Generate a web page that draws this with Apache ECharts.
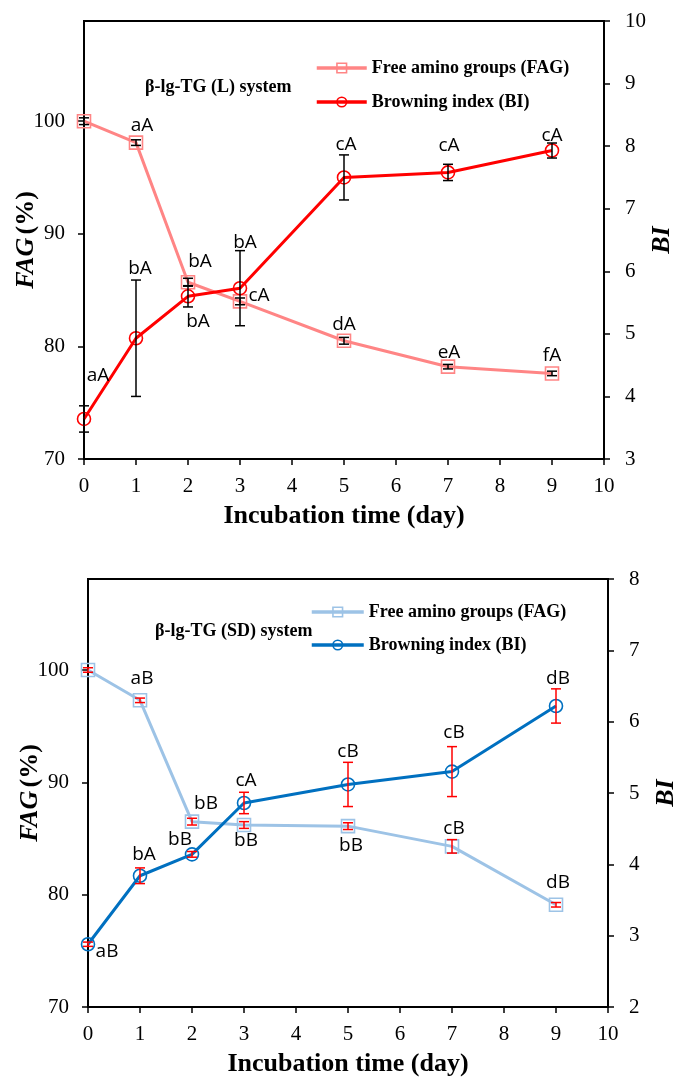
<!DOCTYPE html>
<html>
<head>
<meta charset="utf-8">
<title>FAG and BI during incubation</title>
<script src="https://cdn.jsdelivr.net/npm/echarts@6/dist/echarts.min.js"></script>
<style>
  html, body { margin: 0; padding: 0; background: #fff; }
  #chart { width: 675px; height: 1077px; }
</style>
</head>
<body>
<div id="chart"></div>
<script>
// Incubation days sampled
const days = [0, 1, 2, 3, 5, 7, 9];
const fagTicks = [70, 80, 90, 100];

// β-lg-TG (L) system
const fagL = [100, 98.1, 85.7, 84.0, 80.5, 78.2, 77.6];
const fagLErr = [0.3, 0.25, 0.35, 0.3, 0.3, 0.2, 0.2];
const fagLLetters = ['', 'aA', 'bA', 'cA', 'dA', 'eA', 'fA'];
const biL = [3.64, 4.93, 5.60, 5.73, 7.50, 7.58, 7.93];
const biLErr = [0.21, 0.93, 0.17, 0.6, 0.36, 0.13, 0.12];
const biLLetters = ['aA', 'bA', 'bA', 'bA', 'cA', 'cA', 'cA'];

// β-lg-TG (SD) system
const fagSD = [100, 97.3, 86.5, 86.2, 86.1, 84.3, 79.1];
const fagSDErr = [0.2, 0.2, 0.3, 0.3, 0.3, 0.6, 0.2];
const fagSDLetters = ['', 'aB', 'bB', 'bB', 'bB', 'cB', 'dB'];
const biSD = [2.88, 3.84, 4.14, 4.86, 5.12, 5.30, 6.22];
const biSDErr = [0.03, 0.11, 0.04, 0.15, 0.31, 0.35, 0.24];
const biSDLetters = ['aB', 'bA', 'bB', 'cA', 'cB', 'cB', 'dB'];

// Where each significance letter sits relative to its point (px)
const fagLLetterPos = [[0, 0], [6, -17], [12, -21], [19, -6], [0, -16], [1, -14], [0, -18]];
const biLLetterPos = [[14, -43], [4, -70], [10, 25], [5, -46], [2, -33], [1, -27], [0, -15]];
const fagSDLetterPos = [[0, 0], [2, -22], [14, -18], [2, 16], [3, 19], [2, -18], [2, -22]];
const biSDLetterPos = [[19, 7], [4, -21], [-12, -15], [2, -22], [0, -33], [2, -39], [2, -27]];

const serif = 'Liberation Serif';
const sans = 'Open Sans';

function points(values, letters, pos) {
  return days.map((d, i) => ({
    value: [d, values[i]],
    label: {
      show: letters[i] !== '',
      formatter: letters[i],
      position: 'inside',
      offset: pos[i]
    }
  }));
}

function errRows(values, errs) {
  return days.map((d, i) => [d, values[i] - errs[i], values[i] + errs[i]]);
}

function errorBars(color, capHalf) {
  return function (params, api) {
    const x = api.value(0);
    const top = api.coord([x, api.value(2)]);
    const bot = api.coord([x, api.value(1)]);
    const style = { stroke: color, lineWidth: 1.5, fill: null };
    return {
      type: 'group',
      children: [
        { type: 'line', shape: { x1: top[0], y1: top[1], x2: bot[0], y2: bot[1] }, style },
        { type: 'line', shape: { x1: top[0] - capHalf, y1: top[1], x2: top[0] + capHalf, y2: top[1] }, style },
        { type: 'line', shape: { x1: bot[0] - capHalf, y1: bot[1], x2: bot[0] + capHalf, y2: bot[1] }, style }
      ]
    };
  };
}

const axisLineStyle = { show: true, lineStyle: { color: '#000', width: 2 } };
const tickStyle = { show: true, length: 6, lineStyle: { color: '#000', width: 1.5 } };
const tickLabel = { color: '#000', fontFamily: serif, fontSize: 21 };

function xAxisFor(gridIndex) {
  return {
    gridIndex, type: 'value', min: 0, max: 10, interval: 1,
    axisLine: axisLineStyle, axisTick: tickStyle, splitLine: { show: false },
    axisLabel: Object.assign({ margin: 17 }, tickLabel),
    name: 'Incubation time (day)', nameLocation: 'middle', nameGap: 44, nameMoveOverlap: false,
    nameTextStyle: { color: '#000', fontFamily: serif, fontWeight: 'bold', fontSize: 26 }
  };
}

function fagAxisFor(gridIndex, max) {
  return {
    gridIndex, type: 'value', position: 'left', min: 70, max, interval: 10,
    axisLine: axisLineStyle,
    axisTick: Object.assign({ customValues: fagTicks }, tickStyle),
    splitLine: { show: false },
    axisLabel: Object.assign({ margin: 19, customValues: fagTicks }, tickLabel),
    name: '{i|FAG} {n|(%)}', nameLocation: 'middle', nameRotate: 90, nameGap: 45, nameMoveOverlap: false,
    nameTextStyle: {
      rich: {
        i: { fontFamily: serif, fontWeight: 'bold', fontStyle: 'italic', fontSize: 26, color: '#000' },
        n: { fontFamily: serif, fontWeight: 'bold', fontSize: 26, color: '#000' }
      }
    }
  };
}

function biAxisFor(gridIndex, min, max) {
  return {
    gridIndex, type: 'value', position: 'right', min, max, interval: 1,
    axisLine: axisLineStyle, axisTick: tickStyle, splitLine: { show: false },
    axisLabel: Object.assign({ margin: 21 }, tickLabel),
    name: 'BI', nameLocation: 'middle', nameRotate: 90, nameGap: 45, nameMoveOverlap: false,
    nameTextStyle: { color: '#000', fontFamily: serif, fontWeight: 'bold', fontStyle: 'italic', fontSize: 26 }
  };
}

function lineSeries(name, xi, yi, data, color, symbol) {
  return {
    name, type: 'line', xAxisIndex: xi, yAxisIndex: yi, data,
    symbol, symbolSize: 13, showAllSymbol: true,
    lineStyle: { color, width: 3 },
    itemStyle: { color: 'rgba(255,255,255,0)', borderColor: color, borderWidth: 1.6 },
    label: { color: '#000', fontFamily: sans, fontSize: 19 },
    emphasis: { disabled: true },
    z: 3
  };
}

function errSeries(xi, yi, rows, color) {
  return {
    type: 'custom', xAxisIndex: xi, yAxisIndex: yi, data: rows,
    encode: { x: 0, y: [1, 2] },
    renderItem: errorBars(color, 5),
    z: 4, silent: true
  };
}

const legendText = {
  color: '#000', fontFamily: serif, fontWeight: 'bold', fontSize: 18, lineHeight: 20
};
const legendNames = {
  'FAG (L)': 'Free amino groups (FAG)', 'BI (L)': 'Browning index (BI)',
  'FAG (SD)': 'Free amino groups (FAG)', 'BI (SD)': 'Browning index (BI)'
};

const gridBox = { show: true, borderColor: '#000', borderWidth: 2, backgroundColor: 'transparent', outerBoundsMode: 'none', containLabel: false };
const legendBase = {
  orient: 'vertical', itemHeight: 12, textStyle: legendText,
  formatter: n => legendNames[n], selectedMode: false,
  lineStyle: { width: 3.5 }, itemStyle: { borderWidth: 1.6 }
};

const option = {
  animation: false,
  backgroundColor: '#fff',
  grid: [
    Object.assign({ left: 84, right: 71, top: 21, height: 438 }, gridBox),
    Object.assign({ left: 88, right: 67, top: 579, height: 428 }, gridBox)
  ],
  title: [
    { text: 'β-lg-TG (L) system', left: 140, top: 73,
      textStyle: { fontFamily: serif, fontWeight: 'bold', fontSize: 18, color: '#000' } },
    { text: 'β-lg-TG (SD) system', left: 150, top: 617,
      textStyle: { fontFamily: serif, fontWeight: 'bold', fontSize: 18, color: '#000' } }
  ],
  legend: [
    Object.assign({ data: ['FAG (L)', 'BI (L)'], left: 310, top: 53, itemWidth: 50, itemGap: 14 }, legendBase),
    Object.assign({ data: ['FAG (SD)', 'BI (SD)'], left: 305, top: 597, itemWidth: 52, itemGap: 13 }, legendBase)
  ],
  xAxis: [xAxisFor(0), xAxisFor(1)],
  yAxis: [
    fagAxisFor(0, 108.9),
    biAxisFor(0, 3, 10),
    fagAxisFor(1, 108.1),
    biAxisFor(1, 2, 8)
  ],
  series: [
    lineSeries('FAG (L)', 0, 0, points(fagL, fagLLetters, fagLLetterPos), '#FF8585', 'rect'),
    lineSeries('BI (L)', 0, 1, points(biL, biLLetters, biLLetterPos), '#FF0000', 'circle'),
    errSeries(0, 0, errRows(fagL, fagLErr), '#000'),
    errSeries(0, 1, errRows(biL, biLErr), '#000'),
    lineSeries('FAG (SD)', 1, 2, points(fagSD, fagSDLetters, fagSDLetterPos), '#9DC3E6', 'rect'),
    lineSeries('BI (SD)', 1, 3, points(biSD, biSDLetters, biSDLetterPos), '#0070C0', 'circle'),
    errSeries(1, 2, errRows(fagSD, fagSDErr), '#FF0000'),
    errSeries(1, 3, errRows(biSD, biSDErr), '#FF0000')
  ]
};

const chart = echarts.init(document.getElementById('chart'), null, { renderer: 'canvas' });
chart.setOption(option);
</script>
</body>
</html>
